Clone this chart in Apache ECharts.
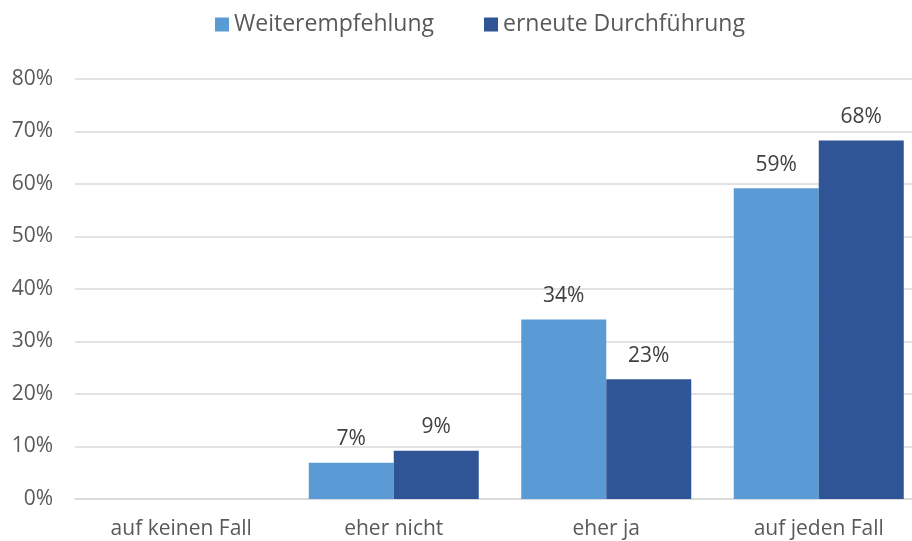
<!DOCTYPE html>
<html><head><meta charset="utf-8">
<script src="https://cdn.jsdelivr.net/npm/echarts@6/dist/echarts.min.js"></script>
<style>html,body{margin:0;padding:0;background:#fff;overflow:hidden;width:912px;height:541px}#c{width:925px;height:541px}</style>
</head><body><div id="c"></div>
<script>
const categories = ['auf keinen Fall', 'eher nicht', 'eher ja', 'auf jeden Fall'];
const weiterempfehlung = [0, 6.9, 34.2, 59.2];
const erneuteDurchfuehrung = [0, 9.2, 22.8, 68.3];
const labelsWeiter = ['', '7%', '34%', '59%'];
const labelsErneut = ['', '9%', '23%', '68%'];
const seriesNames = ['Weiterempfehlung', 'erneute Durchführung'];
const FONT = 'Open Sans';
const chart = echarts.init(document.getElementById('c'));
chart.setOption({
  animation: false,
  textStyle: { fontFamily: FONT },
  legend: {
    top: 8, left: 210, itemWidth: 14, itemHeight: 14, itemGap: 50, itemTextGap: 6,
    icon: 'rect',
    textStyle: { fontSize: 23, color: '#595959', fontFamily: FONT }
  },
  grid: { left: 75, right: 0, top: 79, bottom: 42, containLabel: false },
  xAxis: {
    type: 'category', data: categories,
    axisLine: { lineStyle: { color: '#d9d9d9', width: 1.5 } },
    axisTick: { show: false },
    axisLabel: { fontSize: 21, color: '#595959', margin: 20, fontFamily: FONT }
  },
  yAxis: {
    type: 'value', min: 0, max: 80, interval: 10,
    axisLabel: { formatter: '{value}%', fontSize: 21, color: '#595959', margin: 22, fontFamily: FONT },
    splitLine: { lineStyle: { color: '#d9d9d9', width: 1.5 } },
    axisLine: { show: false }, axisTick: { show: false }
  },
  series: [
    {
      name: seriesNames[0], type: 'bar', data: weiterempfehlung,
      barGap: '0%', barCategoryGap: '20%',
      itemStyle: { color: '#5B9BD5' },
      label: { show: true, position: 'top', distance: 13, fontSize: 21, color: '#404040', fontFamily: FONT,
        formatter: p => labelsWeiter[p.dataIndex] }
    },
    {
      name: seriesNames[1], type: 'bar', data: erneuteDurchfuehrung,
      itemStyle: { color: '#2F5597' },
      label: { show: true, position: 'top', distance: 13, fontSize: 21, color: '#404040', fontFamily: FONT,
        formatter: p => labelsErneut[p.dataIndex] }
    }
  ]
});
</script></body></html>
